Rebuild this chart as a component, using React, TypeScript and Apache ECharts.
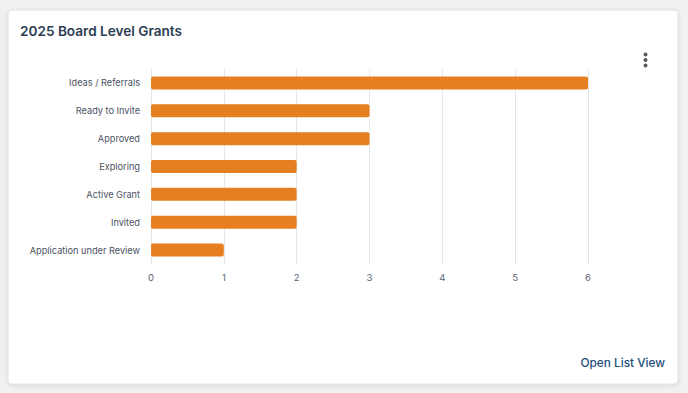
import React, { useEffect, useRef } from "react";
import * as echarts from "echarts";

const categories = [
  "Ideas / Referrals",
  "Ready to Invite",
  "Approved",
  "Exploring",
  "Active Grant",
  "Invited",
  "Application under Review",
];
const values = [6, 3, 3, 2, 2, 2, 1];
const titleText = "2025 Board Level Grants";
const linkText = "Open List View";

export default function App() {
  const ref = useRef<HTMLDivElement>(null);
  useEffect(() => {
    if (!ref.current) return;
    const chart = echarts.init(ref.current, undefined, { renderer: "svg" });
    chart.setOption({
      animation: false,
      backgroundColor: "#f1f1f1",
      textStyle: { fontFamily: "Inter" },
      grid: { left: 151, right: 100, top: 69, height: 195 },
      xAxis: {
        type: "value",
        min: 0,
        max: 6,
        interval: 1,
        axisLine: { show: false },
        axisTick: { show: false },
        splitLine: { lineStyle: { color: "#e6e6e6", width: 1 } },
        axisLabel: { color: "#5a6270", fontSize: 9.5, margin: 8, fontFamily: "Inter" },
      },
      yAxis: {
        type: "category",
        data: categories,
        inverse: true,
        axisLine: { show: false },
        axisTick: { show: false },
        axisLabel: { color: "#4a5262", fontSize: 9.2, margin: 11, fontFamily: "Inter" },
      },
      series: [
        {
          type: "bar",
          data: values,
          barWidth: 13,
          itemStyle: { color: "#e67e22", borderRadius: 2 },
          z: 3,
        },
      ],
      graphic: [
        {
          type: "rect",
          z: -10,
          zlevel: 0,
          silent: true,
          shape: { x: 8, y: 10, width: 670, height: 374, r: 4 },
          style: {
            fill: "#ffffff",
            stroke: "#e4e4e4",
            lineWidth: 1,
            shadowBlur: 4,
            shadowColor: "rgba(0,0,0,0.12)",
            shadowOffsetY: 1,
          },
        },
        {
          type: "text",
          x: 20,
          y: 31,
          style: {
            text: titleText,
            fill: "#2c3e55",
            fontSize: 13.6,
            fontWeight: 600,
            fontFamily: "Inter",
            textVerticalAlign: "middle",
          },
        },
        { type: "circle", shape: { cx: 645.5, cy: 54.5, r: 2 }, style: { fill: "#555a60" } },
        { type: "circle", shape: { cx: 645.5, cy: 60, r: 2 }, style: { fill: "#555a60" } },
        { type: "circle", shape: { cx: 645.5, cy: 65.5, r: 2 }, style: { fill: "#555a60" } },
        {
          type: "text",
          x: 665,
          y: 363,
          style: {
            text: linkText,
            fill: "#1d4e7c",
            fontSize: 11.8,
            fontWeight: 500,
            fontFamily: "Inter",
            textAlign: "right",
            textVerticalAlign: "middle",
          },
        },
      ],
    });
    return () => chart.dispose();
  }, []);
  return (
    <div
      ref={ref}
      style={{ position: "fixed", left: 0, top: 0, width: 688, height: 393 }}
    />
  );
}
